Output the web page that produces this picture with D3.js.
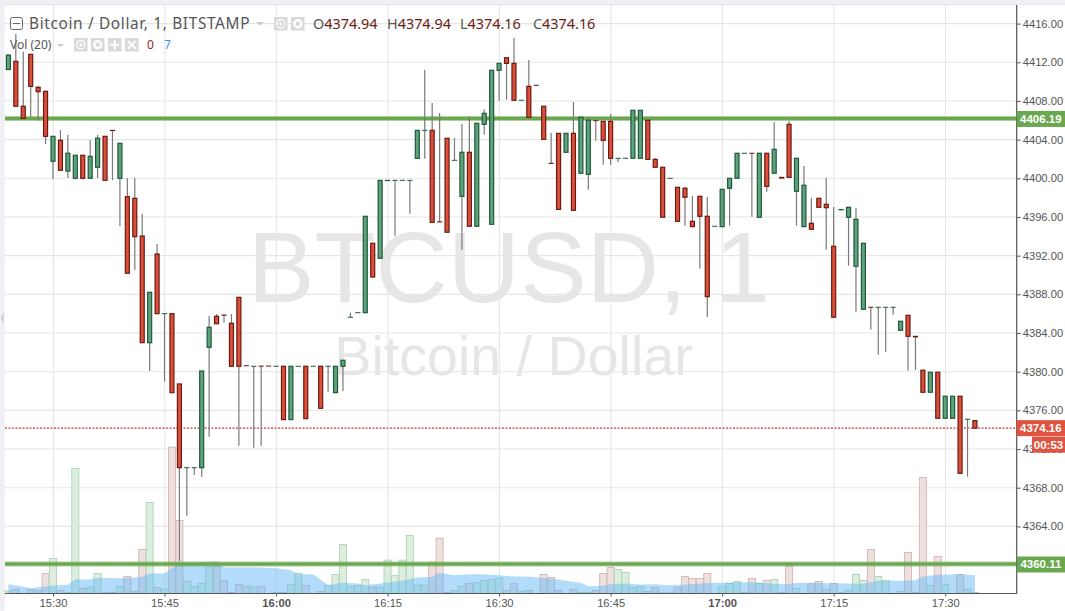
<!DOCTYPE html>
<html><head><meta charset="utf-8">
<script src="https://cdn.jsdelivr.net/npm/d3@7"></script>
<style>html,body{margin:0;padding:0;background:#fff;overflow:hidden}svg{display:block}</style>
</head><body><svg id="c" width="1065" height="611"></svg>
<script>
const startMinute = -6; // minutes relative to 15:30
const opens = [4411.25,4412.10,4407.45,4412.82,4409.41,4409.00,
4401.76,4403.93,4400.75,4400.00,4402.38,4400.00,4401.14,4404.34,4404.96,4400.00,
4398.10,4397.93,4394.03,4383.00,4392.17,4386.00,4386.00,4378.73,4370.07,4370.07,
4370.07,4382.52,4385.73,4385.86,4385.01,4387.69,4380.62,4380.56,4380.58,4380.58,
4380.56,4380.56,4375.04,4380.56,4380.56,4380.56,4380.56,4380.56,4377.83,4380.56,
4385.63,4386.10,4386.10,4393.28,4391.73,4399.72,4399.79,4399.79,4399.79,4402.07,
4404.96,4404.96,4395.50,4404.14,4401.86,4398.14,4402.69,4395.04,4405.58,4395.24,
4411.17,4412.47,4411.89,4408.07,4409.51,4409.62,4407.45,4401.55,4404.65,4402.69,
4404.65,4400.52,4400.41,4405.96,4405.89,4405.89,4402.07,4402.07,4402.07,4402.07,
4406.00,4401.96,4401.14,4400.00,4399.07,4398.97,4395.55,4398.14,4396.07,4395.04,
4395.00,4398.97,4400.00,4402.59,4402.59,4395.97,4402.59,4400.52,4400.10,4405.58,
4398.66,4395.00,4395.35,4397.93,4397.31,4392.97,4396.70,4395.97,4390.90,4386.45,
4386.66,4386.66,4386.66,4386.66,4384.28,4385.83,4383.66,4380.15,4377.87,4379.94,
4375.18,4375.18,4377.46,4375.08,4374.94];
const closes = [4412.75,4407.45,4406.20,4409.51,4408.96,4404.34,
4404.34,4400.83,4402.59,4402.38,4400.00,4402.27,4404.14,4399.79,4404.90,4403.62,
4390.18,4393.96,4383.00,4388.21,4386.00,4386.00,4377.83,4370.07,4370.07,4370.07,
4380.07,4384.59,4384.96,4385.80,4380.56,4380.56,4380.58,4380.56,4380.56,4380.56,
4380.56,4375.04,4380.56,4380.56,4375.14,4380.56,4376.21,4380.56,4380.56,4381.18,
4385.63,4386.10,4396.07,4389.79,4399.79,4399.79,4399.79,4399.79,4399.79,4404.96,
4404.96,4395.45,4395.45,4394.42,4401.86,4402.69,4395.04,4405.69,4406.72,4411.17,
4411.89,4411.89,4408.07,4408.07,4406.31,4409.60,4404.03,4401.50,4396.79,4404.65,
4396.69,4406.31,4406.00,4405.92,4403.93,4402.07,4402.07,4402.07,4407.03,4407.03,
4401.96,4401.14,4395.97,4400.00,4395.55,4398.04,4395.00,4396.07,4387.76,4395.04,
4398.86,4400.00,4402.59,4402.59,4402.55,4402.59,4399.17,4403.00,4399.98,4400.10,
4402.07,4399.28,4394.73,4397.00,4396.96,4385.63,4396.78,4397.00,4395.76,4393.28,
4386.62,4386.66,4386.66,4386.66,4385.21,4383.66,4383.55,4377.87,4379.94,4375.18,
4377.46,4377.46,4369.49,4375.08,4374.16];
const highs = [4412.75,4414.92,4413.09,4412.82,4409.54,4409.00,
4404.34,4404.99,4404.48,4402.38,4402.38,4403.96,4404.48,4404.34,4404.96,4403.62,
4400.03,4400.03,4396.31,4388.21,4393.21,4386.00,4386.00,4378.73,4370.07,4370.07,
4380.07,4385.76,4385.97,4385.86,4385.97,4387.69,4380.62,4380.56,4380.58,4380.58,
4380.56,4380.56,4380.56,4380.56,4380.56,4380.56,4380.56,4380.56,4380.56,4381.18,
4386.10,4386.10,4396.07,4393.28,4399.79,4399.79,4399.79,4399.79,4399.79,4404.96,
4411.20,4407.79,4406.75,4404.14,4404.17,4405.62,4406.44,4405.69,4407.14,4411.17,
4411.89,4412.47,4414.51,4408.07,4412.23,4409.62,4407.45,4404.68,4404.65,4404.65,
4407.89,4406.31,4406.34,4405.96,4405.89,4406.65,4402.07,4402.07,4407.03,4407.03,
4406.00,4402.10,4401.14,4400.00,4399.07,4399.10,4398.17,4398.14,4398.07,4395.04,
4398.86,4400.00,4402.59,4402.59,4402.59,4402.59,4402.59,4405.82,4400.10,4405.92,
4402.07,4401.27,4397.96,4397.93,4400.03,4397.03,4396.78,4397.00,4396.93,4393.28,
4386.66,4386.66,4386.66,4386.66,4385.21,4385.83,4383.66,4380.15,4379.94,4379.94,
4377.46,4377.46,4377.46,4375.08,4374.94];
const lows = [4411.25,4407.45,4406.20,4406.34,4405.96,4403.55,
4399.90,4400.83,4400.03,4399.90,4399.90,4400.00,4400.03,4399.79,4399.82,4395.07,
4390.18,4390.52,4383.00,4380.07,4386.00,4378.97,4377.83,4360.43,4365.11,4369.32,
4369.11,4373.28,4384.96,4385.07,4380.56,4372.35,4380.58,4372.14,4372.35,4380.56,
4380.56,4375.04,4375.04,4380.56,4375.14,4380.56,4376.21,4377.93,4377.83,4378.00,
4385.63,4386.10,4386.10,4389.79,4391.73,4399.72,4394.06,4399.79,4396.34,4402.07,
4402.03,4395.45,4395.45,4394.42,4401.86,4392.62,4395.04,4395.04,4404.51,4395.24,
4408.02,4408.13,4408.07,4408.07,4406.31,4409.60,4404.03,4401.50,4396.79,4402.69,
4396.69,4400.52,4398.82,4403.89,4401.41,4401.41,4401.69,4402.07,4402.07,4402.07,
4401.96,4401.14,4395.97,4400.00,4395.55,4395.10,4395.00,4390.65,4385.66,4395.04,
4395.00,4395.10,4400.00,4402.59,4396.03,4395.97,4398.61,4400.52,4399.98,4400.10,
4395.10,4395.00,4394.73,4397.00,4392.62,4385.63,4396.70,4390.96,4386.21,4386.45,
4384.34,4381.76,4382.07,4385.90,4384.28,4380.10,4380.18,4377.87,4377.87,4375.18,
4375.18,4375.18,4369.49,4369.14,4374.16];
const volumes = [8,12,0,12,9,60,
105,9,3,375,15,19,60,2,3,21,
51,6,132,273,18,13,439,219,36,21,
30,79,82,39,3,27,22,19,21,0,
3,3,27,60,24,0,6,25,57,147,
21,24,42,19,19,100,54,100,174,25,
25,94,165,3,9,22,30,33,39,42,
46,9,30,6,9,0,57,48,9,0,
12,3,3,9,60,78,72,63,18,21,
6,18,2,2,18,51,45,45,60,0,
21,30,36,3,45,30,39,42,3,81,
15,0,29,36,12,30,3,9,57,39,
132,51,39,0,6,123,3,348,24,111,
27,0,57,12,3];
const maMinutes = [-6,-5,-3,0,2,3,5,6,9,11,12,13,15,17,19,22,23,25,28,30,32,33,35,37,39,41,42,44,47,49,51,52,54,56,58,60,61.5,64,67,69,71,72,74,75,77,79,81,83,86,88.5,90,92,94.5,97,98.5,100,102,106,109,111,114,116,117,119,122,124];
const maValues  = [28,25,16,24,26,43,42,47,46,48,50,60,60,93,92,97,78,78,78,76,70,58,58,25,32,30,25,30,38,48,50,62,55,58,58,55,52,50,45,38,32,22,23,28,30,27,28,25,28,32,32,34,34,29,28,32,32,30,29,38,38,40,51,56,58,55];
const priceTicks = [4416,4412,4408,4404,4400,4396,4392,4388,4384,4380,4376,4372,4368,4364];
const gridPrices = [4416,4412,4408,4404,4400,4396,4392,4388,4384,4380,4376,4372,4368,4364,4360];
const timeTicks = [0,15,30,45,60,75,90,105,120];
const timeLabels = ["15:30","15:45","16:00","16:15","16:30","16:45","17:00","17:15","17:30"];
const boldLabels = ["16:00","17:00"];
const levels = [4406.19,4360.11];
const lastPrice = 4374.16;
const countdown = "00:53";
const headerTitle = "Bitcoin / Dollar, 1, BITSTAMP";
const ohlcNames = ["O","H","L","C"];
const ohlcValues = ["4374.94","4374.94","4374.16","4374.16"];

const svg = d3.select("#c");
const W=1065,H=611,plotL=5,plotR=1016.7,plotT=5,plotB=593.5;
const x = d3.scaleLinear().domain([0,120]).range([53,945.2]);
const y = d3.scaleLinear().domain([4400,4368]).range([178.3,487.7]);
const v = d3.scaleLinear().domain([0,400]).range([plotB,plotB-133.33]);
const ff = "'Liberation Sans',Arial,sans-serif", hf="'Noto Sans',sans-serif";
const data = opens.map((o,i)=>({m:startMinute+i,o,h:highs[i],l:lows[i],c:closes[i],v:volumes[i],up:closes[i]>=o}));

// frame strips
svg.append("rect").attr("width",W).attr("height",4.5).attr("fill","#eef0f4");
svg.append("rect").attr("width",4.7).attr("height",H).attr("fill","#eef0f4");
svg.append("line").attr("x1",plotL).attr("x2",W).attr("y1",4.7).attr("y2",4.7).attr("stroke","#dfe1e6");
svg.append("path").attr("d","M3.5 312 L1 318 L3.5 324 Z").attr("fill","#c9c9c9");

// grid
const grid = svg.append("g").attr("stroke","#e6e6e6").attr("stroke-width",1.1);
grid.selectAll("line.h").data(gridPrices).join("line").attr("x1",plotL).attr("x2",plotR).attr("y1",d=>y(d)).attr("y2",d=>y(d));
grid.selectAll("line.v").data(timeTicks).join("line").attr("x1",d=>x(d)+.3).attr("x2",d=>x(d)+.3).attr("y1",plotT).attr("y2",plotB);

// watermark
const wm = svg.append("g").attr("fill","#e6e6e6").attr("font-family",ff).attr("text-anchor","middle");
wm.append("text").attr("x",509).attr("y",302).attr("font-size",100).text("BTCUSD, 1");
wm.append("text").attr("x",513.5).attr("y",375).attr("font-size",55.6).text("Bitcoin / Dollar");

// volume bars (under the translucent average area)
const barW = x(1)-x(0);
svg.append("g").selectAll("rect").data(data.filter(d=>d.v>0)).join("rect")
 .attr("x",d=>x(d.m)-barW/2+.2).attr("width",barW-.4)
 .attr("y",d=>v(d.v)).attr("height",d=>plotB-v(d.v))
 .attr("fill",d=>d.up?"#deeede":"#efe0e0")
 .attr("stroke",d=>d.up?"#b2d8ba":"#d6baba").attr("stroke-width",1);

// volume MA area
const maPts = maMinutes.map((m,i)=>[m,maValues[i]]);
svg.append("path").datum(maPts).attr("d",d3.area().x(d=>x(d[0])).y0(plotB).y1(d=>v(d[1]))).attr("fill","rgba(101,185,245,.5)");

// level lines
levels.forEach(p=>{
  svg.append("line").attr("x1",plotL).attr("x2",plotR).attr("y1",y(p)).attr("y2",y(p)).attr("stroke","rgba(106,168,79,.55)").attr("stroke-width",5);
  svg.append("line").attr("x1",plotL).attr("x2",plotR).attr("y1",y(p)).attr("y2",y(p)).attr("stroke","#6aa84f").attr("stroke-width",3);
});
// last price dotted
svg.append("line").attr("x1",plotL).attr("x2",plotR).attr("y1",y(lastPrice)).attr("y2",y(lastPrice)).attr("stroke","#c8402f").attr("stroke-width",1.1).attr("stroke-dasharray","2,1.5");

// candles
const bodyW=4;
const candles = svg.append("g").selectAll("g").data(data).join("g");
candles.append("line").attr("x1",d=>x(d.m)).attr("x2",d=>x(d.m)).attr("y1",d=>y(d.h)).attr("y2",d=>y(d.l)).attr("stroke","#7a7a7a").attr("stroke-width",1.2);
candles.filter(d=>Math.abs(y(d.o)-y(d.c))>=1.5).append("rect")
 .attr("x",d=>x(d.m)-bodyW/2).attr("width",bodyW)
 .attr("y",d=>y(Math.max(d.o,d.c))).attr("height",d=>Math.abs(y(d.o)-y(d.c)))
 .attr("fill",d=>d.up?"#5fa37c":"#dc4f3b").attr("stroke",d=>d.up?"#1f5a3a":"#6b1a12").attr("stroke-width",1.2);
candles.filter(d=>Math.abs(y(d.o)-y(d.c))<1.5).append("rect")
 .attr("x",d=>x(d.m)-2.6).attr("width",5.2)
 .attr("y",d=>y(Math.max(d.o,d.c))-.5).attr("height",d=>Math.max(1,Math.abs(y(d.o)-y(d.c))+.6))
 .attr("fill",d=>d.up?"#1f5a3a":"#6b1a12");

// top strip above the right axis is repainted last region
svg.append("rect").attr("x",plotR).attr("y",0).attr("width",W-plotR).attr("height",4.5).attr("fill","#eef0f4");

// right axis
const axR = d3.axisRight(y).tickValues(priceTicks).tickFormat(d3.format(".2f")).tickSize(4).tickPadding(2);
const gR = svg.append("g").attr("transform",`translate(${plotR},0)`).call(axR);
gR.select(".domain").remove();
gR.selectAll("line").attr("stroke","#555");
gR.selectAll("text").attr("font-family",ff).attr("font-size",11.2).attr("fill","#555");
svg.append("line").attr("x1",plotR).attr("x2",plotR).attr("y1",plotT).attr("y2",plotB+.5).attr("stroke","#555").attr("stroke-width",1.2);

// bottom axis
const axB = d3.axisBottom(x).tickValues(timeTicks).tickFormat((d,i)=>timeLabels[i]).tickSize(3).tickPadding(3);
const gB = svg.append("g").attr("transform",`translate(0,${plotB})`).call(axB);
gB.select(".domain").remove();
gB.selectAll("line").attr("stroke","#555");
gB.selectAll("text").attr("font-family",ff).attr("font-size",11.2).attr("fill","#555").attr("font-weight",d=>boldLabels.includes(timeLabels[timeTicks.indexOf(d)])?"bold":"normal");
svg.append("line").attr("x1",plotL).attr("x2",plotR).attr("y1",plotB).attr("y2",plotB).attr("stroke","#555").attr("stroke-width",1.2);

// price tags
function tag(x0,h,fill,txt,yc){
  svg.append("rect").attr("x",x0).attr("y",yc-h/2).attr("width",W-x0).attr("height",h).attr("fill",fill);
  svg.append("text").attr("x",x0+(W-x0)/2).attr("y",yc+4).attr("text-anchor","middle").attr("font-family",ff).attr("font-size",11.5).attr("font-weight","bold").attr("fill","#fff").text(txt);
}
levels.forEach(p=>tag(plotR,16,"#6aa84f",p.toFixed(2),y(p)+.5));
tag(plotR,16,"#e0533f",lastPrice.toFixed(2),y(lastPrice));
tag(1032,16,"#e0533f",countdown,y(lastPrice)+16.5);

// header
const hdr = svg.append("g").attr("font-family",hf);
hdr.append("rect").attr("x",10.5).attr("y",17.5).attr("width",12).attr("height",12).attr("rx",2).attr("fill","none").attr("stroke","#666");
hdr.append("line").attr("x1",13).attr("x2",20).attr("y1",23.5).attr("y2",23.5).attr("stroke","#666");
hdr.append("text").attr("x",29).attr("y",29).attr("font-size",15.4).attr("letter-spacing",.65).attr("fill","#555").text(headerTitle);
hdr.append("path").attr("d","M256 22 h8 l-4 3.5 z").attr("fill","#ccc");
function icon(ix,iy,glyph){
  hdr.append("rect").attr("x",ix).attr("y",iy).attr("width",13.5).attr("height",13.5).attr("fill","#d9d9d9");
  const cx=ix+6.75,cy=iy+6.75;
  if(glyph==="eye"){hdr.append("circle").attr("cx",cx).attr("cy",cy).attr("r",4.2).attr("fill","none").attr("stroke","#fff").attr("stroke-width",1.2);hdr.append("circle").attr("cx",cx).attr("cy",cy).attr("r",1.6).attr("fill","#fff");}
  if(glyph==="gear"){hdr.append("circle").attr("cx",cx).attr("cy",cy).attr("r",3.5).attr("fill","none").attr("stroke","#fff").attr("stroke-width",2.4);}
  if(glyph==="plus"){hdr.append("path").attr("d",`M${cx-4.5} ${cy}H${cx+4.5}M${cx} ${cy-4.5}V${cy+4.5}`).attr("stroke","#fff").attr("stroke-width",2);}
  if(glyph==="x"){hdr.append("path").attr("d",`M${cx-4} ${cy-4}L${cx+4} ${cy+4}M${cx+4} ${cy-4}L${cx-4} ${cy+4}`).attr("stroke","#fff").attr("stroke-width",1.8);}
}
icon(274,17,"eye");icon(291,17,"gear");
const ox=[313,387,460,533];
ohlcNames.forEach((n,i)=>{
  const t=hdr.append("text").attr("x",ox[i]).attr("y",29).attr("font-size",14.4);
  t.append("tspan").attr("fill","#555").text(n);
  t.append("tspan").attr("fill","#6b1d14").text(ohlcValues[i]);
});
hdr.append("text").attr("x",10).attr("y",49).attr("font-size",12).attr("fill","#555").text("Vol (20)");
hdr.append("path").attr("d","M57 44 h7 l-3.5 3 z").attr("fill","#ccc");
icon(74,38,"eye");icon(91,38,"gear");icon(108,38,"plus");icon(125,38,"x");
hdr.append("text").attr("x",147).attr("y",49).attr("font-size",12).attr("fill","#8e2a22").text("0");
hdr.append("text").attr("x",164).attr("y",49).attr("font-size",12).attr("fill","#2d9cf0").text("7");
</script></body></html>
